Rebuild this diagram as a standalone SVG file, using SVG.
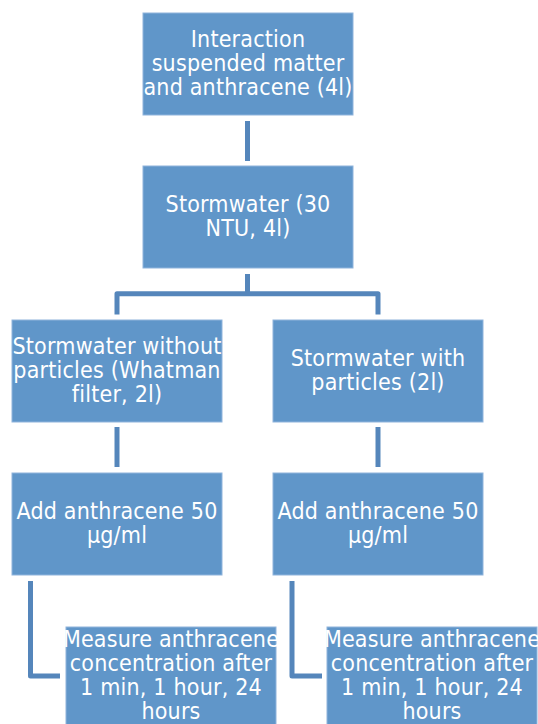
<svg xmlns="http://www.w3.org/2000/svg" width="538" height="724" viewBox="0 0 538 724">
  <style>
    .box { fill: #6096c9; stroke: #8fb4dc; stroke-width: 1; }
    .label { font-family: "DejaVu Sans Condensed", "DejaVu Sans", Verdana, sans-serif; font-stretch: condensed; font-size: 23px; letter-spacing: 0.2px; fill: #ffffff; text-anchor: middle; }
    .link { fill: none; stroke: #5586bb; stroke-width: 5; stroke-linejoin: round; }
  </style>
  <rect width="538" height="724" fill="#ffffff"/>

  <!-- connectors -->
  <g id="connectors">
    <line class="link" x1="247.5" y1="121" x2="247.5" y2="161"/>
    <path class="link" d="M247.5 274 V293.7 M117 314.5 V293.7 H378 V314.5"/>
    <line class="link" x1="117" y1="427" x2="117" y2="467"/>
    <line class="link" x1="378" y1="427" x2="378" y2="467"/>
    <path class="link" d="M30.5 581 V676 H60"/>
    <path class="link" d="M292 581 V676 H322"/>
  </g>

  <g id="interaction">
    <rect class="box" x="143" y="13" width="210" height="102"/>
    <text class="label" x="248" y="47">Interaction</text>
    <text class="label" x="248" y="71">suspended matter</text>
    <text class="label" x="248" y="95">and anthracene (4l)</text>
  </g>

  <g id="stormwater">
    <rect class="box" x="143" y="166" width="210" height="102"/>
    <text class="label" x="248" y="212">Stormwater (30</text>
    <text class="label" x="248" y="236">NTU, 4l)</text>
  </g>

  <g id="without-particles">
    <rect class="box" x="12" y="320" width="210" height="102"/>
    <text class="label" x="117" y="354">Stormwater without</text>
    <text class="label" x="117" y="378">particles (Whatman</text>
    <text class="label" x="117" y="402">filter, 2l)</text>
  </g>

  <g id="with-particles">
    <rect class="box" x="273" y="320" width="210" height="102"/>
    <text class="label" x="378" y="366">Stormwater with</text>
    <text class="label" x="378" y="390">particles (2l)</text>
  </g>

  <g id="add-left">
    <rect class="box" x="12" y="473" width="210" height="102"/>
    <text class="label" x="117" y="519">Add anthracene 50</text>
    <text class="label" x="117" y="543">µg/ml</text>
  </g>

  <g id="add-right">
    <rect class="box" x="273" y="473" width="210" height="102"/>
    <text class="label" x="378" y="519">Add anthracene 50</text>
    <text class="label" x="378" y="543">µg/ml</text>
  </g>

  <g id="measure-left">
    <rect class="box" x="66" y="627" width="210" height="102"/>
    <text class="label" x="171" y="647">Measure anthracene</text>
    <text class="label" x="171" y="671">concentration after</text>
    <text class="label" x="171" y="695">1 min, 1 hour, 24</text>
    <text class="label" x="171" y="719">hours</text>
  </g>

  <g id="measure-right">
    <rect class="box" x="327" y="627" width="210" height="102"/>
    <text class="label" x="432" y="647">Measure anthracene</text>
    <text class="label" x="432" y="671">concentration after</text>
    <text class="label" x="432" y="695">1 min, 1 hour, 24</text>
    <text class="label" x="432" y="719">hours</text>
  </g>
</svg>
